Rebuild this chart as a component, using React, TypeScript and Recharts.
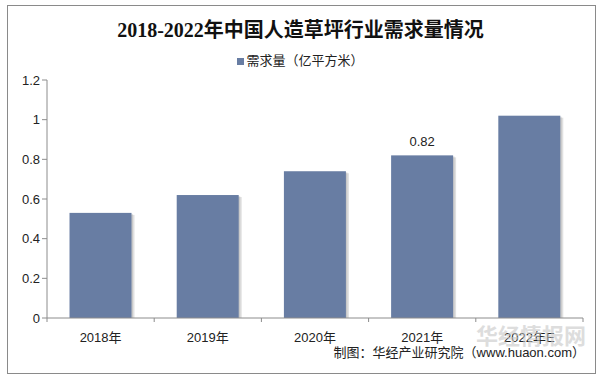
import { BarChart, Bar, XAxis, YAxis, LabelList } from 'recharts';

const years = ['2018年', '2019年', '2020年', '2021年', '2022年E'];
const demand = [0.53, 0.62, 0.74, 0.82, 1.02];
const yTicks = [0, 0.2, 0.4, 0.6, 0.8, 1, 1.2];
const labelledYear = '2021年';

const data = years.map((year, i) => ({ year, demand: demand[i] }));

const BAR_COLOR = '#687da3';
const AXIS_COLOR = '#8c8c8c';
const FONT = '"Liberation Sans", Arial, "Noto Sans CJK SC", sans-serif';

const ShadowBar = ({ x, y, width, height }: any) => {
    if (!height) return null;
    return (
        <g>
            <rect x={x + 3} y={y + 2} width={width} height={height - 2} fill="#000" opacity={0.12} />
            <rect x={x + 1.5} y={y + 1} width={width} height={height - 1} fill="#000" opacity={0.1} />
            <rect x={x} y={y} width={width} height={height} fill={BAR_COLOR} />
        </g>
    );
};

// category ticks sit on the band edges, like the spreadsheet original
const CategoryTick = ({ x, y, payload, index }: any) => {
    const half = payload?.offset ?? 53.6;
    return (
        <g>
            <line x1={x - half} y1={y - 8} x2={x - half} y2={y - 4} stroke={AXIS_COLOR} />
            {index === years.length - 1 && (
                <line x1={x + half} y1={y - 8} x2={x + half} y2={y - 4} stroke={AXIS_COLOR} />
            )}
            <text x={x} y={y + 16} textAnchor="middle" fill="#222" fontSize={13} fontFamily={FONT}>
                {payload.value}
            </text>
        </g>
    );
};

export default function App() {
    return (
        <div style={{ position: 'fixed', left: 0, top: 0, width: 601, height: 381, background: '#fff', fontFamily: FONT }}>
            <div style={{ position: 'absolute', left: 7, top: 5, width: 587, height: 367, border: '1px solid #8a8a8a' }} />
            <div style={{ position: 'absolute', left: 0, top: 14, width: 601, textAlign: 'center', fontSize: 20, fontWeight: 700, color: '#111', fontFamily: '"Liberation Serif", "Noto Sans CJK SC", serif' }}>
                2018-2022年中国人造草坪行业需求量情况
            </div>
            <div style={{ position: 'absolute', left: 0, top: 52, width: 601, display: 'flex', justifyContent: 'center', alignItems: 'center', fontSize: 13, color: '#222', lineHeight: '18px' }}>
                <span style={{ display: 'inline-block', width: 7, height: 7, background: BAR_COLOR, marginRight: 2 }} />
                <span>需求量（亿平方米）</span>
            </div>
            <div style={{ position: 'absolute', left: 0, top: 0 }}>
                <BarChart width={601} height={381} data={data} margin={{ top: 80, right: 18, bottom: 33, left: 0 }} barCategoryGap="21%">
                    <YAxis
                        width={47}
                        domain={[0, 1.2]}
                        ticks={yTicks}
                        interval={0}
                        axisLine={{ stroke: AXIS_COLOR }}
                        tickLine={{ stroke: AXIS_COLOR }}
                        tickSize={5}
                        tick={{ fill: '#222', fontSize: 13, fontFamily: FONT }}
                    />
                    <XAxis
                        dataKey="year"
                        height={30}
                        axisLine={{ stroke: AXIS_COLOR }}
                        tickLine={false}
                        interval={0}
                        tick={<CategoryTick />}
                    />
                    <Bar dataKey="demand" isAnimationActive={false} shape={<ShadowBar />}>
                        <LabelList
                            dataKey="demand"
                            content={(props: any) => {
                                const { x, y, width, index } = props;
                                if (years[index] !== labelledYear) return null;
                                return (
                                    <text x={x + width / 2} y={y - 9} textAnchor="middle" fill="#222" fontSize={13} fontFamily={FONT}>
                                        {demand[index]}
                                    </text>
                                );
                            }}
                        />
                    </Bar>
                </BarChart>
            </div>
            <div style={{ position: 'absolute', left: 476, top: 324, fontSize: 22, lineHeight: '21px', fontWeight: 700, color: '#c8c8c8', opacity: 0.6, fontFamily: '"Noto Sans CJK SC", sans-serif', pointerEvents: 'none' }}>
                华经情报网
            </div>
            <div style={{ position: 'absolute', right: 16, top: 346, fontSize: 13, lineHeight: '14px', color: '#222' }}>
                制图：华经产业研究院（www.huaon.com）
            </div>
        </div>
    );
}
